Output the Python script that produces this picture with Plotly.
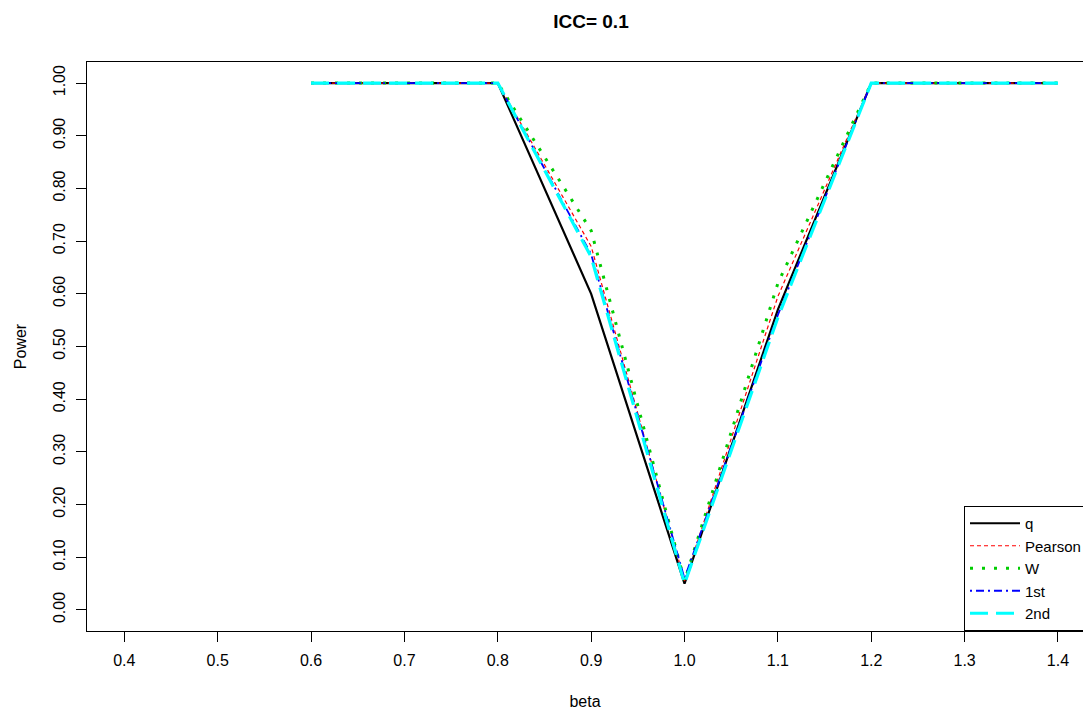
import plotly.graph_objects as go

beta = [0.6, 0.7, 0.8, 0.9, 1.0, 1.1, 1.2, 1.3, 1.4]
power_q = [1.0, 1.0, 1.0, 0.60, 0.05, 0.57, 1.0, 1.0, 1.0]
power_pearson = [1.0, 1.0, 1.0, 0.69, 0.055, 0.595, 1.0, 1.0, 1.0]
power_w = [1.0, 1.0, 1.0, 0.72, 0.055, 0.62, 1.0, 1.0, 1.0]
power_1st = [1.0, 1.0, 1.0, 0.675, 0.06, 0.56, 1.0, 1.0, 1.0]
power_2nd = [1.0, 1.0, 1.0, 0.67, 0.05, 0.555, 1.0, 1.0, 1.0]

x_ticks = [0.4, 0.5, 0.6, 0.7, 0.8, 0.9, 1.0, 1.1, 1.2, 1.3, 1.4]
y_ticks = [0.0, 0.1, 0.2, 0.3, 0.4, 0.5, 0.6, 0.7, 0.8, 0.9, 1.0]

FONT = "Liberation Sans, Arial, Helvetica, sans-serif"

series = [
    ("q", power_q, dict(color="black", width=2.2, dash="solid")),
    ("Pearson", power_pearson, dict(color="#ff0000", width=1.2, dash="4px,3px")),
    ("W", power_w, dict(color="#00cd00", width=3, dash="3px,9px")),
    ("1st", power_1st, dict(color="#0000ff", width=1.8, dash="2px,4px,8px,4px")),
    ("2nd", power_2nd, dict(color="#00ffff", width=3.2, dash="18px,8px")),
]

fig = go.Figure()
for name, vals, line in series:
    fig.add_trace(go.Scatter(x=beta, y=vals, mode="lines", name=name, line=line))

fig.update_layout(
    width=1083,
    height=711,
    margin=dict(l=87, r=0, t=62, b=80, autoexpand=False),
    paper_bgcolor="white",
    plot_bgcolor="white",
    font=dict(family=FONT, size=16, color="black"),
    title=dict(
        text="ICC= 0.1",
        x=0.506,
        xref="paper",
        xanchor="center",
        y=1 - 21.7 / 711,
        yref="container",
        yanchor="middle",
        font=dict(family=FONT, size=19, color="black", weight="bold"),
    ),
    showlegend=True,
    legend=dict(
        x=(964 - 87) / 996,
        xanchor="left",
        y=0,
        yanchor="bottom",
        bgcolor="white",
        bordercolor="black",
        borderwidth=1,
        font=dict(family=FONT, size=15, color="black"),
        itemwidth=50,
        tracegroupgap=0,
    ),
    xaxis=dict(
        range=[0.36, 1.4268],
        tickvals=x_ticks,
        ticktext=[f"{v:.1f}" for v in x_ticks],
        ticks="outside",
        ticklen=10,
        tickcolor="black",
        tickwidth=1,
        ticklabelstandoff=5,
        showline=True,
        linecolor="black",
        linewidth=1,
        mirror=True,
        showgrid=False,
        zeroline=False,
        tickfont=dict(family=FONT, size=16, color="black"),
        title=dict(text="beta", font=dict(family=FONT, size=16, color="black"), standoff=27),
    ),
    yaxis=dict(
        range=[-0.04, 1.04],
        tickvals=y_ticks,
        ticktext=[f"{v:.2f}" for v in y_ticks],
        tickangle=-90,
        ticks="outside",
        ticklen=10,
        tickcolor="black",
        tickwidth=1,
        ticklabelstandoff=5,
        showline=True,
        linecolor="black",
        linewidth=1,
        mirror=False,
        showgrid=False,
        zeroline=False,
        tickfont=dict(family=FONT, size=16, color="black"),
        title=dict(text="Power", font=dict(family=FONT, size=16, color="black"), standoff=19),
    ),
)

fig.write_html("out.html")
